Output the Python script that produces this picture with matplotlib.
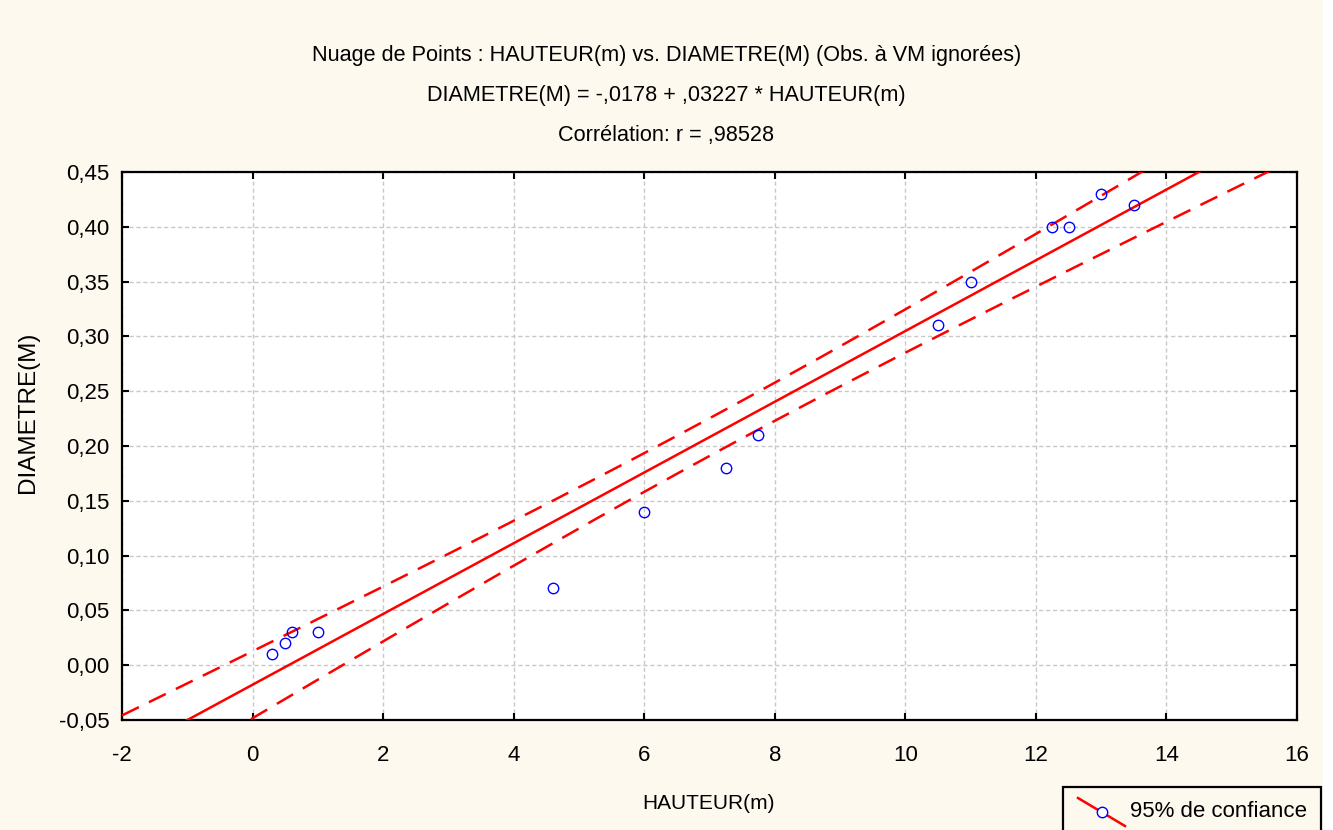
import numpy as np
import matplotlib
matplotlib.use("Agg")
import matplotlib.pyplot as plt
from matplotlib.lines import Line2D
from matplotlib.patches import Rectangle

# Observations
hauteur = [0.3, 0.5, 0.6, 1.0, 4.6, 6.0, 7.25, 7.75, 10.5, 11.0, 12.25, 12.5, 13.0, 13.5]
diametre = [0.01, 0.02, 0.03, 0.03, 0.07, 0.14, 0.18, 0.21, 0.31, 0.35, 0.40, 0.40, 0.43, 0.42]

# Fitted model
intercept = -0.0178
slope = 0.03227
t_975 = 2.1788  # Student t, 12 df

x_ticks = [-2, 0, 2, 4, 6, 8, 10, 12, 14, 16]
y_ticks = [-0.05, 0.00, 0.05, 0.10, 0.15, 0.20, 0.25, 0.30, 0.35, 0.40, 0.45]

BG = "#FDF9EF"
NARROW = ["Liberation Sans Narrow", "Liberation Sans", "DejaVu Sans"]
REGULAR = ["Liberation Sans", "DejaVu Sans"]

fig = plt.figure(figsize=(13.33, 8.30), dpi=100, facecolor=BG)
W, H = 1333, 830

# thin white margin on the right edge of the canvas
fig.patches.append(Rectangle((1323 / W, 0), 1 - 1323 / W, 1, transform=fig.transFigure,
                             facecolor="white", edgecolor="none", zorder=0))

ax = fig.add_axes([122 / W, 1 - 720 / H, (1297 - 122) / W, (720 - 172) / H])
ax.set_facecolor("white")

x = np.asarray(hauteur)
y = np.asarray(diametre)
n = len(x)
xm = x.mean()
sxx = ((x - xm) ** 2).sum()
resid = y - (intercept + slope * x)
s = np.sqrt((resid ** 2).sum() / (n - 2))

xs = np.linspace(-2, 16, 400)
fit = intercept + slope * xs
half = t_975 * s * np.sqrt(1.0 / n + (xs - xm) ** 2 / sxx)

ax.plot(xs, fit, color="#FF0000", lw=1.8, zorder=3)
ax.plot(xs, fit + half, color="#FF0000", lw=1.8, ls=(0, (7.5, 4.5)), zorder=3)
ax.plot(xs, fit - half, color="#FF0000", lw=1.8, ls=(0, (7.5, 4.5)), zorder=3)
ax.plot(x, y, ls="none", marker="o", markersize=7.5, markerfacecolor="none",
        markeredgecolor="#0000FF", markeredgewidth=1.0, zorder=4)

ax.set_xlim(-2, 16)
ax.set_ylim(-0.05, 0.45)
ax.set_xticks(x_ticks)
ax.set_yticks(y_ticks)
ax.set_xticklabels([str(v) for v in x_ticks], fontfamily=REGULAR, fontsize=16)
ax.set_yticklabels([f"{v:.2f}".replace(".", ",") for v in y_ticks],
                   fontfamily=REGULAR, fontsize=16)
ax.tick_params(direction="in", length=5, width=1.5, top=True, right=True,
               colors="black")
ax.tick_params(axis="x", pad=18)
ax.tick_params(axis="y", pad=9)
ax.grid(True, color="#C8C8C8", ls=(0, (3, 2)), lw=1.0)
ax.set_axisbelow(True)
for sp in ax.spines.values():
    sp.set_linewidth(1.6)
    sp.set_color("black")

# Titles
fig.text(0.5, 1 - 55 / H, "Nuage de Points : HAUTEUR(m) vs. DIAMETRE(M) (Obs. à VM ignorées)",
         ha="center", va="center", fontfamily=NARROW, fontsize=15.6)
fig.text(0.5, 1 - 95 / H, "DIAMETRE(M) = -,0178 + ,03227 * HAUTEUR(m)",
         ha="center", va="center", fontfamily=NARROW, fontsize=15.6)
fig.text(0.5, 1 - 135 / H, "Corrélation: r = ,98528",
         ha="center", va="center", fontfamily=NARROW, fontsize=15.6)

fig.text(709 / W, 1 - 803 / H, "HAUTEUR(m)", ha="center", va="center",
         fontfamily=NARROW, fontsize=15)
fig.text(28 / W, 1 - 412 / H, "DIAMETRE(M)", ha="center", va="center",
         rotation=90, fontfamily=REGULAR, fontsize=17.5)

# Legend box
fig.patches.append(Rectangle((1063 / W, -0.01), (1321 - 1063) / W, 1 - 787 / H + 0.01,
                             transform=fig.transFigure, facecolor=BG,
                             edgecolor="black", lw=1.6, clip_on=False))
fig.lines.append(Line2D([1078 / W, 1125 / W], [1 - 798 / H, 1 - 826 / H],
                        transform=fig.transFigure, color="#FF0000", lw=1.8))
fig.lines.append(Line2D([1102 / W], [1 - 812 / H], transform=fig.transFigure,
                        ls="none", marker="o", markersize=7.5, markerfacecolor="white",
                        markeredgecolor="#0000FF", markeredgewidth=1.0))
fig.text(1130 / W, 1 - 811 / H, "95% de confiance", ha="left", va="center",
         fontfamily=REGULAR, fontsize=16)

fig.savefig("out.png", dpi=100, facecolor=BG)
